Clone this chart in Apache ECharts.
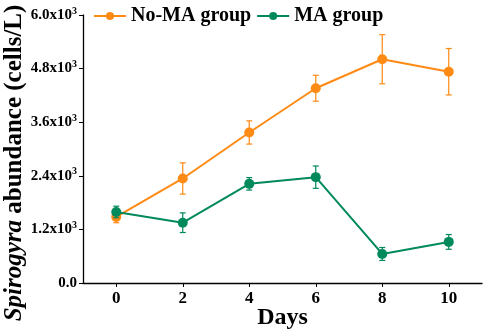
<!DOCTYPE html>
<html>
<head>
<meta charset="utf-8">
<script src="https://cdn.jsdelivr.net/npm/echarts@6/dist/echarts.min.js"></script>
<style>
html, body { margin: 0; padding: 0; background: #fff; }
#main { width: 484px; height: 331px; }
</style>
</head>
<body>
<div id="main"></div>
<script>
// days sampled
var days = [0, 2, 4, 6, 8, 10];
// Spirogyra abundance (cells/L)
var noMA = [1480, 2340, 3370, 4360, 5010, 4730];
var noMAErr = [130, 350, 260, 290, 550, 520];
var MA = [1590, 1350, 2220, 2370, 650, 920];
var MAErr = [130, 220, 140, 250, 145, 165];

var ORANGE = '#FF8A14';
var GREEN = '#00895A';
var FONT = '"Liberation Serif", "Times New Roman", serif';

function pairs(ys) {
	var t = [];
	for (var i = 0; i < days.length; i++) {
		t.push([days[i], ys[i]]);
	}
	return t;
}

function errData(ys, errs) {
	var t = [];
	for (var i = 0; i < days.length; i++) {
		t.push([days[i], ys[i] - errs[i], ys[i] + errs[i]]);
	}
	return t;
}

//误差线：竖线加上下两个短横
function errBar(color) {
	return function (params, api) {
		var lo = api.coord([api.value(0), api.value(1)]);
		var hi = api.coord([api.value(0), api.value(2)]);
		var w = 3;
		var style = { stroke: color, lineWidth: 1.2 };
		return {
			type: 'group',
			children: [
				{ type: 'line', shape: { x1: lo[0], y1: lo[1], x2: hi[0], y2: hi[1] }, style: style },
				{ type: 'line', shape: { x1: lo[0] - w, y1: lo[1], x2: lo[0] + w, y2: lo[1] }, style: style },
				{ type: 'line', shape: { x1: hi[0] - w, y1: hi[1], x2: hi[0] + w, y2: hi[1] }, style: style }
			]
		};
	};
}

var myChart = echarts.init(document.getElementById('main'));
var option = {
	backgroundColor: '#ffffff',
	animation: false,
	textStyle: { fontFamily: FONT },
	legend: {
		top: 1,
		left: 88,
		itemWidth: 32,
		itemHeight: 10,
		itemGap: 5,
		textStyle: { fontFamily: FONT, fontWeight: 'bold', fontSize: 20, color: '#000' },
		data: ['No-MA group', 'MA group']
	},
	grid: {
		left: 83,
		right: 2,
		top: 15,
		bottom: 48,
		outerBoundsMode: 'none'
	},
	xAxis: {
		type: 'value',
		min: -1,
		max: 11,
		name: 'Days',
		nameLocation: 'middle',
		nameGap: 23,
		nameMoveOverlap: false,
		nameTextStyle: { fontFamily: FONT, fontWeight: 'bold', fontSize: 24, color: '#000', verticalAlign: 'top' },
		axisLine: { lineStyle: { color: '#000', width: 1.3 } },
		axisTick: { show: true, customValues: days, length: 4, lineStyle: { color: '#000' } },
		axisLabel: {
			customValues: days,
			fontFamily: FONT, fontWeight: 'bold', fontSize: 17, color: '#000', margin: 7
		},
		splitLine: { show: false }
	},
	yAxis: {
		type: 'value',
		min: 0,
		max: 6000,
		interval: 1200,
		name: '{i|Spirogyra}{n| abundance (cells/L)}',
		nameLocation: 'middle',
		nameGap: 56,
		nameMoveOverlap: false,
		nameTextStyle: {
			padding: [0, 28, 0, 0],
			rich: {
				i: { fontFamily: FONT, fontWeight: 'bold', fontStyle: 'italic', fontSize: 25, color: '#000' },
				n: { fontFamily: FONT, fontWeight: 'bold', fontSize: 25, color: '#000' }
			}
		},
		axisLine: { show: true, onZero: false, lineStyle: { color: '#000', width: 1.3 } },
		axisTick: { show: true, length: 4, lineStyle: { color: '#000' } },
		axisLabel: {
			margin: 6,
			formatter: function (v) {
				if (v === 0) return '{b|0.0}';
				return '{b|' + (v / 1000).toFixed(1) + 'x10}{s|3}';
			},
			rich: {
				b: { fontFamily: FONT, fontWeight: 'bold', fontSize: 15, color: '#000', lineHeight: 18 },
				s: { fontFamily: FONT, fontWeight: 'bold', fontSize: 10, color: '#000', verticalAlign: 'top', lineHeight: 18 }
			}
		},
		splitLine: { show: false }
	},
	series: [{
		name: 'No-MA group',
		type: 'line',
		data: pairs(noMA),
		symbol: 'circle',
		symbolSize: 10,
		itemStyle: { color: ORANGE },
		lineStyle: { color: ORANGE, width: 2 },
		z: 3
	}, {
		type: 'custom',
		renderItem: errBar(ORANGE),
		data: errData(noMA, noMAErr),
		z: 2
	}, {
		name: 'MA group',
		type: 'line',
		data: pairs(MA),
		symbol: 'circle',
		symbolSize: 10,
		itemStyle: { color: GREEN },
		lineStyle: { color: GREEN, width: 2 },
		z: 5
	}, {
		type: 'custom',
		renderItem: errBar(GREEN),
		data: errData(MA, MAErr),
		z: 4
	}]
};
myChart.setOption(option);
</script>
</body>
</html>
